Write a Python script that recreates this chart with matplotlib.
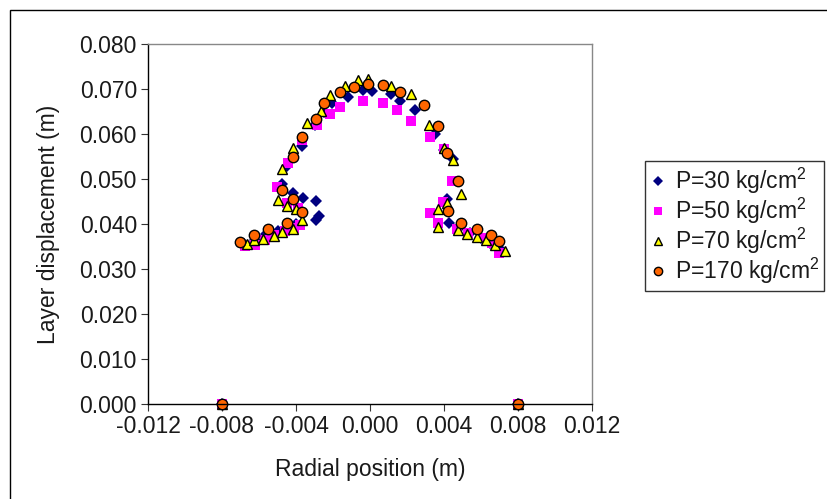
import numpy as np
import matplotlib.pyplot as plt
from matplotlib.patches import Rectangle

plt.rcParams['font.family'] = ['Liberation Sans', 'DejaVu Sans']
plt.rcParams['mathtext.fontset'] = 'custom'
plt.rcParams['mathtext.rm'] = 'Liberation Sans'
plt.rcParams['mathtext.it'] = 'Liberation Sans:italic'

# values
x_p30 = [-0.0080, -0.0068, -0.0062, -0.0056, -0.0050, -0.0045, -0.0040,
         -0.00292, -0.00274, -0.00292, -0.00364, -0.00415, -0.00477,
         -0.0045, -0.00369, -0.0030, -0.0025, -0.00207, -0.00117, -0.00036, 0.0001,
         0.00112, 0.00162, 0.00243, 0.00351, 0.0040, 0.00447,
         0.00418, 0.00429, 0.0048, 0.0054, 0.0060, 0.0065, 0.0070, 0.0080]
y_p30 = [0.0, 0.0355, 0.0365, 0.0378, 0.0385, 0.0392, 0.0400,
         0.0409, 0.0418, 0.0452, 0.0457, 0.0468, 0.0490,
         0.0530, 0.0573, 0.0620, 0.0650, 0.0668, 0.0683, 0.0698, 0.0696,
         0.0688, 0.0674, 0.0653, 0.0600, 0.0565, 0.0544,
         0.0455, 0.0403, 0.0392, 0.0380, 0.0370, 0.0358, 0.0345, 0.0]

x_p50 = [-0.0080, -0.00676, -0.00622, -0.0057, -0.0052, -0.0046, -0.0041, -0.00378,
         -0.00388, -0.0045, -0.00504,
         -0.00442, -0.00369, -0.00288, -0.00216, -0.00162, -0.00036,
         0.00069, 0.00144, 0.0022, 0.00324, 0.0040, 0.00442, 0.00396, 0.00324, 0.00369,
         0.00469, 0.00531, 0.00604, 0.00658, 0.00699, 0.0080]
y_p50 = [0.0, 0.0350, 0.0353, 0.0365, 0.0375, 0.0385, 0.0392, 0.0398,
         0.0435, 0.0446, 0.0483,
         0.0535, 0.0587, 0.0620, 0.0644, 0.0661, 0.0674,
         0.0670, 0.0653, 0.0630, 0.0593, 0.0566, 0.0496, 0.0450, 0.0424, 0.0403,
         0.0390, 0.0379, 0.0368, 0.0357, 0.0336, 0.0]

x_p70 = [-0.0080, -0.00666, -0.00625, -0.00577, -0.00517, -0.00474, -0.00415, -0.00369,
         -0.0040, -0.00447, -0.00496,
         -0.00474, -0.00418, -0.00342, -0.00266, -0.00216, -0.00135, -0.00063, -0.00009,
         0.00112, 0.0022, 0.00321, 0.0040, 0.00447,
         0.00492, 0.00418, 0.00369, 0.00369,
         0.00474, 0.00523, 0.00577, 0.00627, 0.00676, 0.0073, 0.0080]
y_p70 = [0.0, 0.0356, 0.0364, 0.0366, 0.0373, 0.0383, 0.0390, 0.0410,
         0.0433, 0.0441, 0.0453,
         0.0522, 0.0570, 0.0624, 0.0652, 0.0687, 0.0707, 0.0720, 0.0722,
         0.0707, 0.0690, 0.0620, 0.0570, 0.0542,
         0.0467, 0.0446, 0.0433, 0.0394,
         0.0387, 0.0378, 0.0372, 0.0364, 0.0353, 0.0341, 0.0]

x_p170 = [-0.0080, -0.00703, -0.00625, -0.00553, -0.00447, -0.00369,
          -0.00415, -0.00474,
          -0.00418, -0.00369, -0.00292, -0.00247, -0.00162, -0.00086, -0.00009,
          0.00069, 0.00162, 0.00294, 0.00369, 0.00418,
          0.00474, 0.0042,
          0.00492, 0.00577, 0.00654, 0.00699, 0.0080]
y_p170 = [0.0, 0.0359, 0.0376, 0.0388, 0.0403, 0.0426,
          0.0456, 0.0476,
          0.0550, 0.0594, 0.0633, 0.0668, 0.0694, 0.0705, 0.0711,
          0.0709, 0.0694, 0.0664, 0.0618, 0.0557,
          0.0496, 0.0430,
          0.0403, 0.0389, 0.0376, 0.0363, 0.0]

fig = plt.figure(figsize=(8.27, 4.99), dpi=100)
ax = fig.add_axes([148/827, 1 - 404/499, 444/827, 360/499])

ax.plot(x_p30, y_p30, 'D', color='#000080', ms=6.5, mew=0, label='P=30 kg/cm$^2$')
ax.plot(x_p50, y_p50, 's', color='#FF00FF', ms=7, mew=0, label='P=50 kg/cm$^2$')
ax.plot(x_p70, y_p70, '^', mfc='#FFFF00', mec='black', ms=7.5, mew=1, label='P=70 kg/cm$^2$')
ax.plot(x_p170, y_p170, 'o', mfc='#FF6600', mec='black', ms=7.5, mew=1, label='P=170 kg/cm$^2$')

ax.set_xlim(-0.012, 0.012)
ax.set_ylim(0, 0.08)
ax.set_xticks(np.arange(-0.012, 0.0121, 0.004))
ax.set_yticks(np.arange(0, 0.0801, 0.01))
ax.xaxis.set_major_formatter(plt.FormatStrFormatter('%.3f'))
ax.yaxis.set_major_formatter(plt.FormatStrFormatter('%.3f'))
ax.tick_params(labelsize=16.5, length=5, direction='out', color='#333333', pad=3,
               labelcolor='#1a1a1a')
for s in ['top', 'right']:
    ax.spines[s].set_color('#888888')
for s in ['left', 'bottom']:
    ax.spines[s].set_color('black')
for s in ax.spines.values():
    s.set_linewidth(1)

ax.set_xlabel('Radial position (m)', fontsize=16.5, labelpad=14, color='#1a1a1a')
ax.set_ylabel('Layer displacement (m)', fontsize=16.5, labelpad=14, color='#1a1a1a')

for line in ax.get_lines():
    line.set_clip_on(False)

leg = fig.legend(loc='upper left', bbox_to_anchor=(645/827, 1 - 161/499),
                 fontsize=16.5, frameon=True, fancybox=False, edgecolor='black',
                 markerscale=0.8, handlelength=0.7, handletextpad=0.4,
                 labelspacing=0.0, borderpad=0.2, borderaxespad=0)
leg.get_frame().set_linewidth(1)
for t in leg.get_texts():
    t.set_color('#1a1a1a')

fig.patches.append(Rectangle((10/827, -0.1), 2, 1.1 - 10/499, transform=fig.transFigure,
                             fill=False, ec='black', lw=1))

fig.savefig('out.png', dpi=100)
